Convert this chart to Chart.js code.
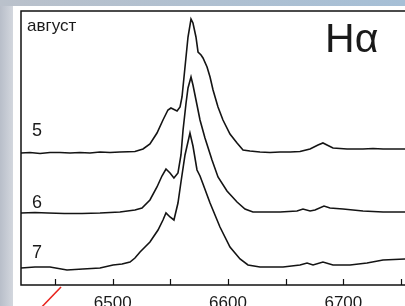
<!DOCTYPE html>
<html>
<head>
<meta charset="utf-8">
<script src="https://cdn.jsdelivr.net/npm/chart.js@4"></script>
<style>
	body{margin:0;width:405px;height:306px;overflow:hidden;background:#fff;position:relative;}
	#bandaIzq{position:absolute;left:0;top:0;width:13px;height:306px;background:linear-gradient(to right,#b8bec9,#d3d7de);}
	#bandaSup{position:absolute;left:0;top:0;width:405px;height:6px;background:linear-gradient(to right,#bac1cb,#a6bfd6);}
	#grafico{position:absolute;left:0;top:0;}
</style>
</head>
<body onload="Inicio()">
<div id="bandaIzq"></div>
<div id="bandaSup"></div>
<canvas id="grafico" width="420" height="320"></canvas>
<script>
//	Perfiles H-alfa, agosto 5, 6 y 7 (desplazados en vertical)

var Lambda5=[6420.5,6428.3,6437,6445.6,6454.3,6463,6471.6,6480.3,6489,6497.7,6506.3,6513.3,6519.3,6526.3,6532.3,6538.4,6543.6,6547.9,6550.5,6552.3,6555.8,6558.4,6560.1,6562.7,6565.3,6567.9,6569.6,6572.2,6574,6576.6,6578.3,6581.8,6584.4,6587,6591.3,6595.6,6601.7,6607.8,6613,6619,6627.7,6636.4,6645.1,6653.8,6662.4,6671.1,6678,6682.3,6685.8,6691,6703.2,6717,6725.7,6734.4,6745,6753.4,6759.5];
var Flujo5=[13.2,13.25,13.15,13.25,13.25,13.2,13.25,13.2,13.3,13.25,13.3,13.32,13.35,13.6,14.1,15.2,16.5,17.5,17.7,17.6,17.4,17.8,18.8,21.8,24.8,26.6,26.2,24.8,23.3,23.0,22.7,21.8,20.8,19.5,17.8,16.5,15.1,14.2,13.5,13.4,13.3,13.25,13.3,13.3,13.35,13.6,14.0,14.2,14.0,13.7,13.6,13.6,13.65,13.6,13.6,13.6,13.6];

var Lambda6=[6420.5,6432.6,6443.9,6458,6473.4,6489,6506.3,6519.3,6525.4,6532.3,6538.4,6542.7,6546.2,6549.7,6553.1,6556.6,6559.2,6561,6563.6,6565.3,6567.9,6569.6,6573.1,6575.7,6580,6586.1,6591.3,6599.1,6607.8,6614.7,6621.6,6630.3,6645.1,6659.8,6665,6671.1,6675.4,6683.2,6688.4,6699.7,6717,6734.4,6753.4,6759.5];
var Flujo6=[7.2,7.25,7.2,7.15,7.15,7.2,7.3,7.5,7.7,8.5,9.8,10.9,11.6,11.2,10.7,11.2,13.0,15.5,18.2,19.7,20.8,20.0,18.0,16.5,14.7,12.5,10.8,9.4,8.3,7.6,7.3,7.3,7.3,7.4,7.6,7.4,7.5,7.9,7.7,7.6,7.4,7.3,7.3,7.3];

var Lambda7=[6420.5,6432.6,6445.6,6460.4,6474.2,6489,6500.3,6508.1,6515,6519.3,6523.7,6532.3,6539.3,6543.6,6546.2,6549.7,6553.1,6556.6,6559.2,6562.7,6567,6569.6,6573.1,6575.7,6578.3,6584.4,6593,6601.7,6610.4,6617.3,6627.7,6647.7,6662.4,6668.5,6673.7,6682.3,6691,6705.8,6720.5,6734.4,6753.4,6759.5];
var Flujo7=[1.7,1.8,1.8,1.5,1.6,1.7,2.0,2.1,2.3,2.7,3.3,4.3,5.5,6.5,7.2,6.8,6.5,8.2,10.3,13.0,15.2,13.9,11.5,10.9,10.1,8.2,5.8,3.8,2.6,2.0,1.8,1.8,2.0,2.2,2.0,2.3,2.0,2.0,2.2,2.5,2.6,2.6];

//	trazo rojo que sale por abajo a la izquierda
var LambdaRojo=[6455.2,6433.5];
var FlujoRojo=[-0.2,-2.8];

var TicksX=[6450,6500,6550,6600,6650,6700,6750];
var EtiquetasCurvas=['5','6','7'];
var TxtMes='август';
var TxtLinea='Hα';

var myChart;

function Inicio()
{
	PresentaGrafico();
}

//	junta lambda y flujo en puntos {x,y}
function Puntos(Lx,Fy)
{
	var arr=[];
	for (var i=0;i<Lx.length;++i)
		arr.push({x:Lx[i],y:Fy[i]});
	return arr;
}

//	marco, ticks hacia dentro y textos
var pluginMarco={
	id:'marco',
	afterDraw:function(chart)
	{
		var ctx=chart.ctx, ca=chart.chartArea;
		var sx=chart.scales.x, sy=chart.scales.y;

		ctx.save();
		ctx.strokeStyle='#111';
		ctx.lineWidth=1.5;
		ctx.strokeRect(ca.left,ca.top,ca.right-ca.left,ca.bottom-ca.top);

		ctx.lineWidth=1.2;
		for (var i=0;i<TicksX.length;++i)
		{
			var px=Math.round(sx.getPixelForValue(TicksX[i]))+0.5;
			ctx.beginPath();
			ctx.moveTo(px,ca.bottom);
			ctx.lineTo(px,ca.bottom-6);
			ctx.stroke();
		}

		ctx.fillStyle='#1a1a1a';
		ctx.textBaseline='alphabetic';
		ctx.textAlign='left';
		ctx.font='17px "Liberation Sans", Arial, sans-serif';
		ctx.fillText(TxtMes,sx.getPixelForValue(6425.7),sy.getPixelForValue(25.43));

		ctx.font='18px "Liberation Sans", Arial, sans-serif';
		var posY=[14.9,7.7,2.7];
		for (var j=0;j<EtiquetasCurvas.length;++j)
			ctx.fillText(EtiquetasCurvas[j],sx.getPixelForValue(6430),sy.getPixelForValue(posY[j]));

		ctx.font='41px "Liberation Sans", Arial, sans-serif';
		ctx.fillText(TxtLinea,sx.getPixelForValue(6684.1),sy.getPixelForValue(23.33));
		ctx.restore();
	}
};

function PresentaGrafico()
{
	var Datasets=[];
	var Series=[[Lambda5,Flujo5],[Lambda6,Flujo6],[Lambda7,Flujo7]];
	for (var i=0;i<Series.length;++i)
	{
		Datasets.push({
			label:EtiquetasCurvas[i],
			data:Puntos(Series[i][0],Series[i][1]),
			borderColor:'#141414',
			borderWidth:1.6,
			pointRadius:0,
			tension:0,
			fill:false
		});
	}
	Datasets.push({
		label:'rojo',
		data:Puntos(LambdaRojo,FlujoRojo),
		borderColor:'#e8231d',
		borderWidth:1.6,
		pointRadius:0,
		clip:false
	});

	var ctx=document.getElementById('grafico').getContext('2d');
	if (myChart)
		myChart.destroy();

	myChart=new Chart(ctx,{
		type:'line',
		data:{datasets:Datasets},
		options:{
			responsive:false,
			animation:false,
			events:[],
			layout:{padding:{left:21,top:11,right:8,bottom:0}},
			plugins:{legend:{display:false},tooltip:{enabled:false}},
			scales:{
				x:{
					type:'linear',
					min:6420.5,
					max:6759.5,
					afterFit:function(s){ s.height=35; },
					afterBuildTicks:function(s){ s.ticks=TicksX.map(function(v){return {value:v};}); },
					grid:{display:false,drawTicks:false},
					border:{display:false},
					ticks:{
						padding:8,
						color:'#1a1a1a',
						font:{family:'"Liberation Sans", Arial, sans-serif',size:17},
						maxRotation:0,
						autoSkip:false,
						callback:function(v){ return (v%100===0)?String(v):''; }
					}
				},
				y:{
					type:'linear',
					display:false,
					min:0,
					max:27.4
				}
			}
		},
		plugins:[pluginMarco]
	});
}
</script>
</body>
</html>
